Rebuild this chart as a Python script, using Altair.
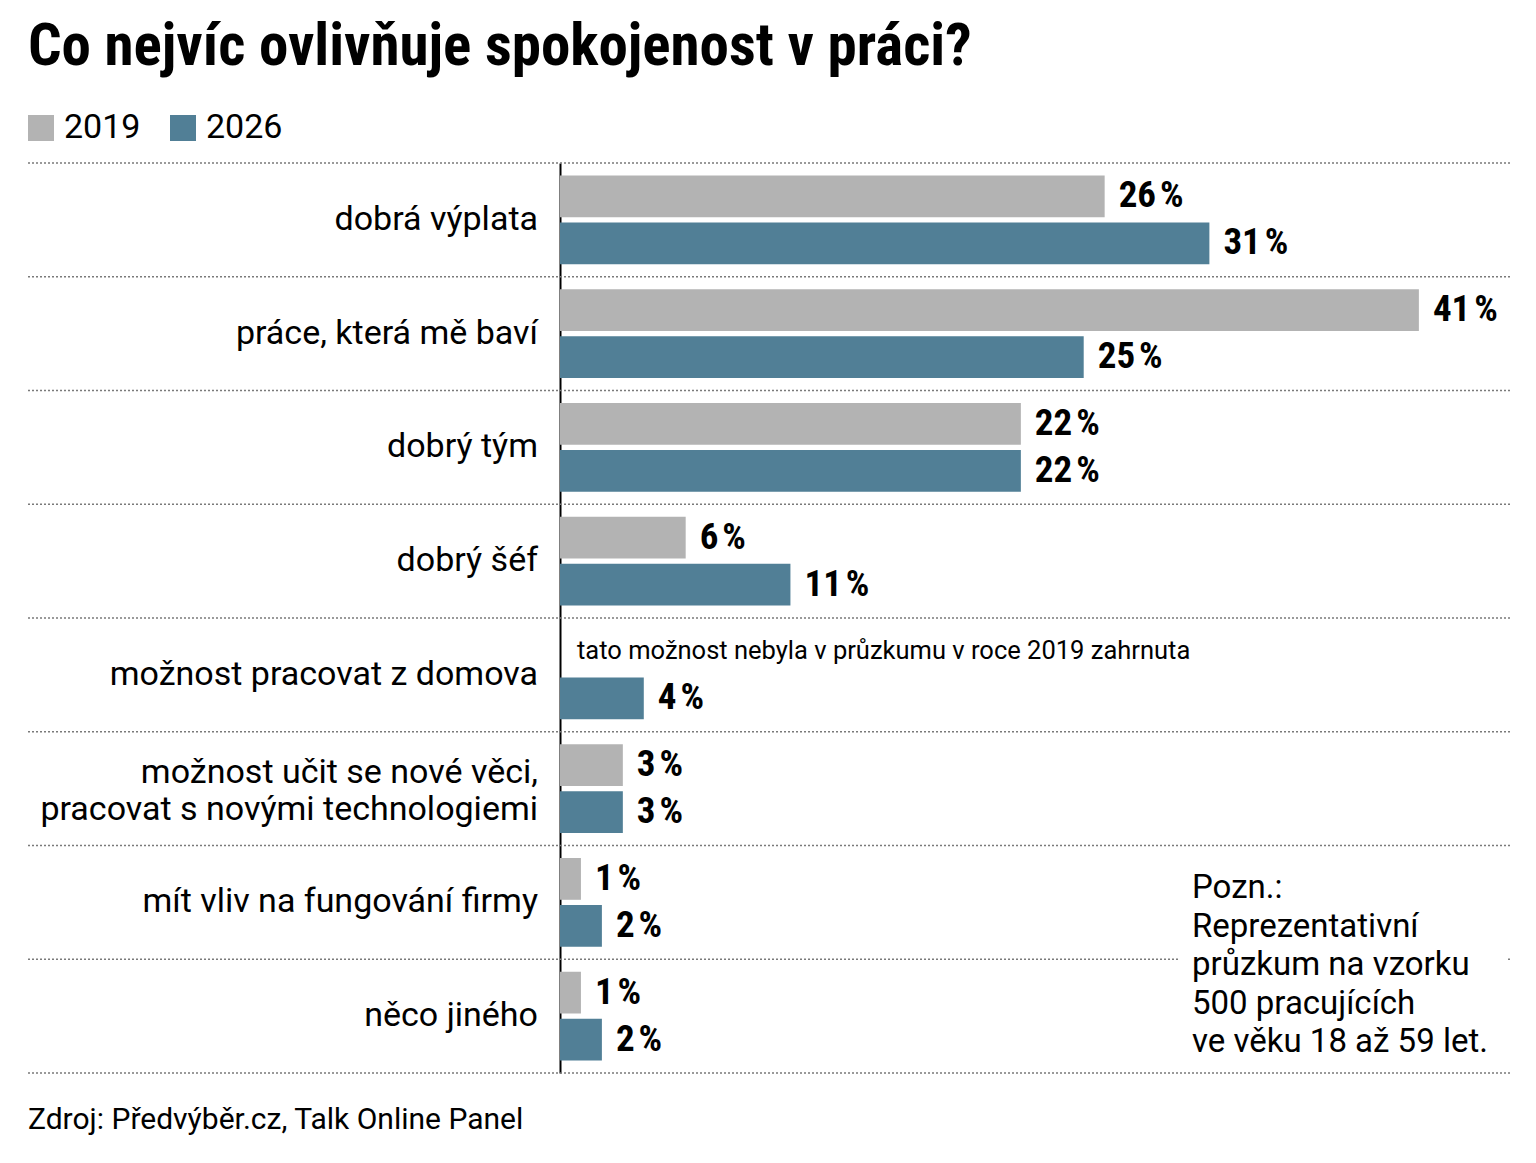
import altair as alt
import pandas as pd

# --- data -------------------------------------------------------------
title_text = "Co nejvíc ovlivňuje spokojenost v práci?"
categories = [
    "dobrá výplata",
    "práce, která mě baví",
    "dobrý tým",
    "dobrý šéf",
    "možnost pracovat z domova",
    "možnost učit se nové věci, pracovat s novými technologiemi",
    "mít vliv na fungování firmy",
    "něco jiného",
]
category_lines = [
    ["dobrá výplata"],
    ["práce, která mě baví"],
    ["dobrý tým"],
    ["dobrý šéf"],
    ["možnost pracovat z domova"],
    ["možnost učit se nové věci,", "pracovat s novými technologiemi"],
    ["mít vliv na fungování firmy"],
    ["něco jiného"],
]
years = ["2019", "2026"]
share_2019 = [26, 41, 22, 6, None, 3, 1, 1]
share_2026 = [31, 25, 22, 11, 4, 3, 2, 2]
missing_note = "tato možnost nebyla v průzkumu v roce 2019 zahrnuta"
method_note = [
    "Pozn.:",
    "Reprezentativní",
    "průzkum na vzorku",
    "500 pracujících",
    "ve věku 18 až 59 let.",
]
source_text = "Zdroj: Předvýběr.cz, Talk Online Panel"
year_colors = ["#b3b3b3", "#517f96"]

# --- layout constants ---------------------------------------------------
PLOT_W, PLOT_H = 950, 910
LEFT, TOP, RIGHT, BOTTOM = 560, 163, 26, 90
X_MAX = 45.35
PAD_INNER, PAD_OUTER = 0.22, 0.11
HALF_GAP = PLOT_H / len(categories) * PAD_INNER / 2
LABEL_LINE_H = 37
BODY_FONT = "Roboto"
NUM_FONT = ("'Liberation Sans Narrow', 'Noto Sans Condensed', 'Roboto Condensed', "
            "'DejaVu Sans Condensed', 'Open Sans Condensed', sans-serif")

rows = []
for cat, a, b in zip(categories, share_2019, share_2026):
    for year, v in zip(years, (a, b)):
        if v is not None:
            rows.append({"kategorie": cat, "rok": year, "podil": v,
                         "popisek": f"{v}\u200a%"})
df = pd.DataFrame(rows)

labels_df = pd.DataFrame({
    "kategorie": categories,
    "radky": category_lines,
    "pocet": [len(lines) for lines in category_lines],
})

y_scale = alt.Scale(domain=categories, paddingInner=PAD_INNER, paddingOuter=PAD_OUTER)
y_axis = alt.Axis(labels=False, ticks=False, grid=False, title=None,
                  domainColor="#000000", domainWidth=2)
x_scale = alt.Scale(domain=[0, X_MAX], nice=False, zero=True)


def y_enc(**kw):
    return alt.Y("kategorie:N", scale=y_scale, axis=y_axis, **kw)


y_off = alt.YOffset("rok:N", scale=alt.Scale(domain=years, paddingInner=0.11, paddingOuter=0))

# dotted row separators
sep_style = dict(strokeDash=[2, 2], color="#7a7a7a", strokeWidth=1.3)
sep_top = alt.Chart(pd.DataFrame({"kategorie": categories})).mark_rule(
    yOffset=-HALF_GAP, **sep_style
).encode(y=y_enc(bandPosition=0), x=alt.value(-532), x2=alt.value(PLOT_W))
sep_bottom = alt.Chart(pd.DataFrame({"kategorie": categories[-1:]})).mark_rule(
    yOffset=HALF_GAP, **sep_style
).encode(y=y_enc(bandPosition=1), x=alt.value(-532), x2=alt.value(PLOT_W))

# white panel behind the methodology note
note_panel = alt.Chart(pd.DataFrame({"k": [0]})).mark_rect(color="white").encode(
    x=alt.value(618), x2=alt.value(946), y=alt.value(700), y2=alt.value(900)
)

bars = alt.Chart(df).mark_bar().encode(
    x=alt.X("podil:Q", scale=x_scale, axis=None),
    y=y_enc(),
    yOffset=y_off,
    color=alt.Color(
        "rok:N",
        scale=alt.Scale(domain=years, range=year_colors),
        legend=alt.Legend(
            title=None, orient="none", legendX=-536, legendY=-52,
            direction="horizontal", symbolType="square", symbolSize=676,
            symbolStrokeWidth=0, symbolOpacity=1, labelFont=BODY_FONT,
            labelFontSize=34, labelColor="#000000", labelOffset=6,
            columnPadding=25, padding=0,
        ),
    ),
)

values = alt.Chart(df).mark_text(
    align="left", baseline="middle", dx=14, font=NUM_FONT, fontSize=37,
    fontWeight="bold", color="#000000",
).encode(x=alt.X("podil:Q", scale=x_scale, axis=None), y=y_enc(), yOffset=y_off,
         text="popisek:N")

label_style = dict(align="right", baseline="middle", font=BODY_FONT, fontSize=34,
                   lineHeight=LABEL_LINE_H, color="#000000", dx=-22)
cat_labels_single = alt.Chart(labels_df).transform_filter(
    alt.datum.pocet == 1
).mark_text(**label_style).encode(x=alt.datum(0, scale=x_scale), y=y_enc(), text="radky:N")
# two-line label, shifted up so the block sits centred on its row
cat_labels_double = alt.Chart(labels_df).transform_filter(
    alt.datum.pocet == 2
).mark_text(dy=-LABEL_LINE_H / 2 + 3, **label_style).encode(
    x=alt.datum(0, scale=x_scale), y=y_enc(), text="radky:N"
)

missing = alt.Chart(pd.DataFrame({"kategorie": [categories[4]], "rok": ["2019"],
                                  "text": [missing_note]})).mark_text(
    align="left", baseline="middle", dx=17, font=BODY_FONT, fontSize=25.5, color="#000000",
).encode(x=alt.datum(0, scale=x_scale), y=y_enc(), yOffset=y_off, text="text:N")

method = alt.Chart(pd.DataFrame({"radky": [method_note]})).mark_text(
    align="left", baseline="top", font=BODY_FONT, fontSize=33, lineHeight=38.6,
    color="#000000",
).encode(x=alt.value(632), y=alt.value(709), text="radky:N")

source = alt.Chart(pd.DataFrame({"text": [source_text]})).mark_text(
    align="left", baseline="middle", font=BODY_FONT, fontSize=30, color="#000000",
).encode(x=alt.value(-532), y=alt.value(957), text="text:N")

chart = alt.layer(
    sep_top, sep_bottom, note_panel, bars, values,
    cat_labels_single, cat_labels_double, missing, method, source,
).properties(
    width=PLOT_W,
    height=PLOT_H,
    padding={"left": LEFT, "top": TOP, "right": RIGHT, "bottom": BOTTOM},
    autosize=alt.AutoSizeParams(type="none"),
    title=alt.TitleParams(
        title_text, anchor="start", frame="group", dx=-532, offset=34,
        font=NUM_FONT, fontSize=59, fontWeight="bold", color="#000000",
    ),
).configure(
    background="white",
    view=alt.ViewConfig(stroke=None),
)

chart.save("out.html", embed_options={"renderer": "svg", "actions": False})
